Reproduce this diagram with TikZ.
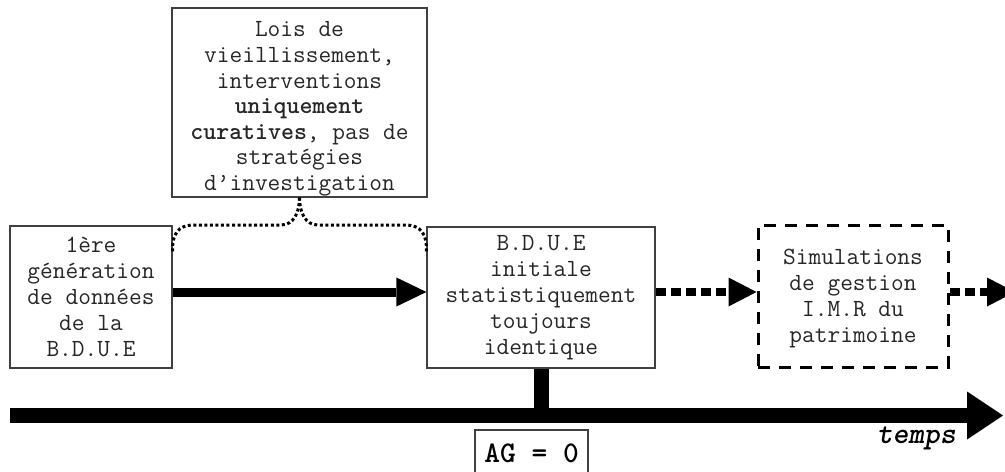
\documentclass[tikz,border=0pt]{standalone}
\usetikzlibrary{arrows.meta,calc}
\begin{document}
\begin{tikzpicture}[x=0.75pt,y=-0.75pt,
  txt/.style={font=\ttfamily\fontsize{18.5}{19.5}\selectfont, align=center, inner sep=0pt, text=black!85},
  box/.style={txt, draw=black!75, line width=0.9pt, rectangle},
  simbox/.style={txt, draw=black, line width=2.25pt, dash pattern=on 9pt off 6.75pt, rectangle},
  solidarrow/.style={line width=6.75pt, -{Triangle[length=22.5pt,width=21.75pt,line width=0pt]}},
  dotarrow/.style={line width=6.5pt, dash pattern=on 7.5pt off 3.75pt, -{Triangle[length=21pt,width=21.75pt,line width=0pt]}},
  timearrow/.style={line width=11.25pt, -{Triangle[length=27pt,width=36pt,line width=0pt]}},
  brace/.style={line width=2.25pt, dash pattern=on 2.25pt off 1.9pt},
  bigfont/.style={font=\ttfamily\fontsize{22.5}{24}\selectfont\bfseries, text=black}
]
\useasboundingbox (0,0) rectangle (1005,471);
\clip (0,0) rectangle (1005,471);

\node[box, minimum width=191.25pt, minimum height=141.75pt] (top) at (299.5,102.5) {};
\node[txt, font=\ttfamily\fontsize{18.5}{19.2}\selectfont] (toptxt) at (299.5,109)
  {Lois de\\vieillissement,\\interventions\\\textbf{uniquement}\\\textbf{curatives}, pas de\\stratégies\\d’investigation};
\node[box, minimum width=121.5pt, minimum height=106.5pt] (left) at (91,297)
  {1ère\\génération\\de données\\de la\\B.D.U.E};
\node[box, minimum width=171pt, minimum height=105.75pt] (mid) at (541,297.5)
  {B.D.U.E\\initiale\\statistiquement\\toujours\\identique};
\node[simbox, minimum width=142.5pt, minimum height=106.5pt] (sim) at (853,296) {};
\node[txt] (simtxt) at (853,299) {Simulations\\de gestion\\I.M.R du\\patrimoine};
\node[box, bigfont, minimum width=84.75pt, minimum height=34.5pt] (ag) at (531.5,453) {AG = 0};
\node[anchor=east, inner sep=0pt, text=black, font=\ttfamily\fontsize{22.5}{24}\selectfont\bfseries\itshape] (temps) at (956,438) {temps};

\coordinate (tl) at (10,415.5);
\coordinate (tr) at (1003,415.5);
\coordinate (out) at (1015,292);
\coordinate (bl) at ($(left.north east)+(0,26)$);
\coordinate (br) at ($(mid.north west)+(0,25)$);

% arrows
\draw[solidarrow] ($(left.east)+(0,-5)$) -- ($(mid.west)+(0,-5.5)$);
\draw[dotarrow] ($(mid.east)+(0,-5.5)$) -- ($(sim.west)+(0,-4)$);
\draw[dotarrow] ($(sim.east)+(0,-4)$) -- (out);

% timeline
\draw[line width=11.25pt] (mid.south) -- (mid.south |- tl);
\draw[timearrow] (tl) -- (tr);

% brace
\draw[brace] (bl) .. controls (172,234) and (178,225) .. (194,225) -- (281,225)
  .. controls (294,225) and (299.5,212) .. (top.south);
\draw[brace] (top.south) .. controls (299.5,212) and (305,225) .. (318,225) -- (405,225)
  .. controls (421,225) and (427,234) .. (br);
\end{tikzpicture}
\end{document}
